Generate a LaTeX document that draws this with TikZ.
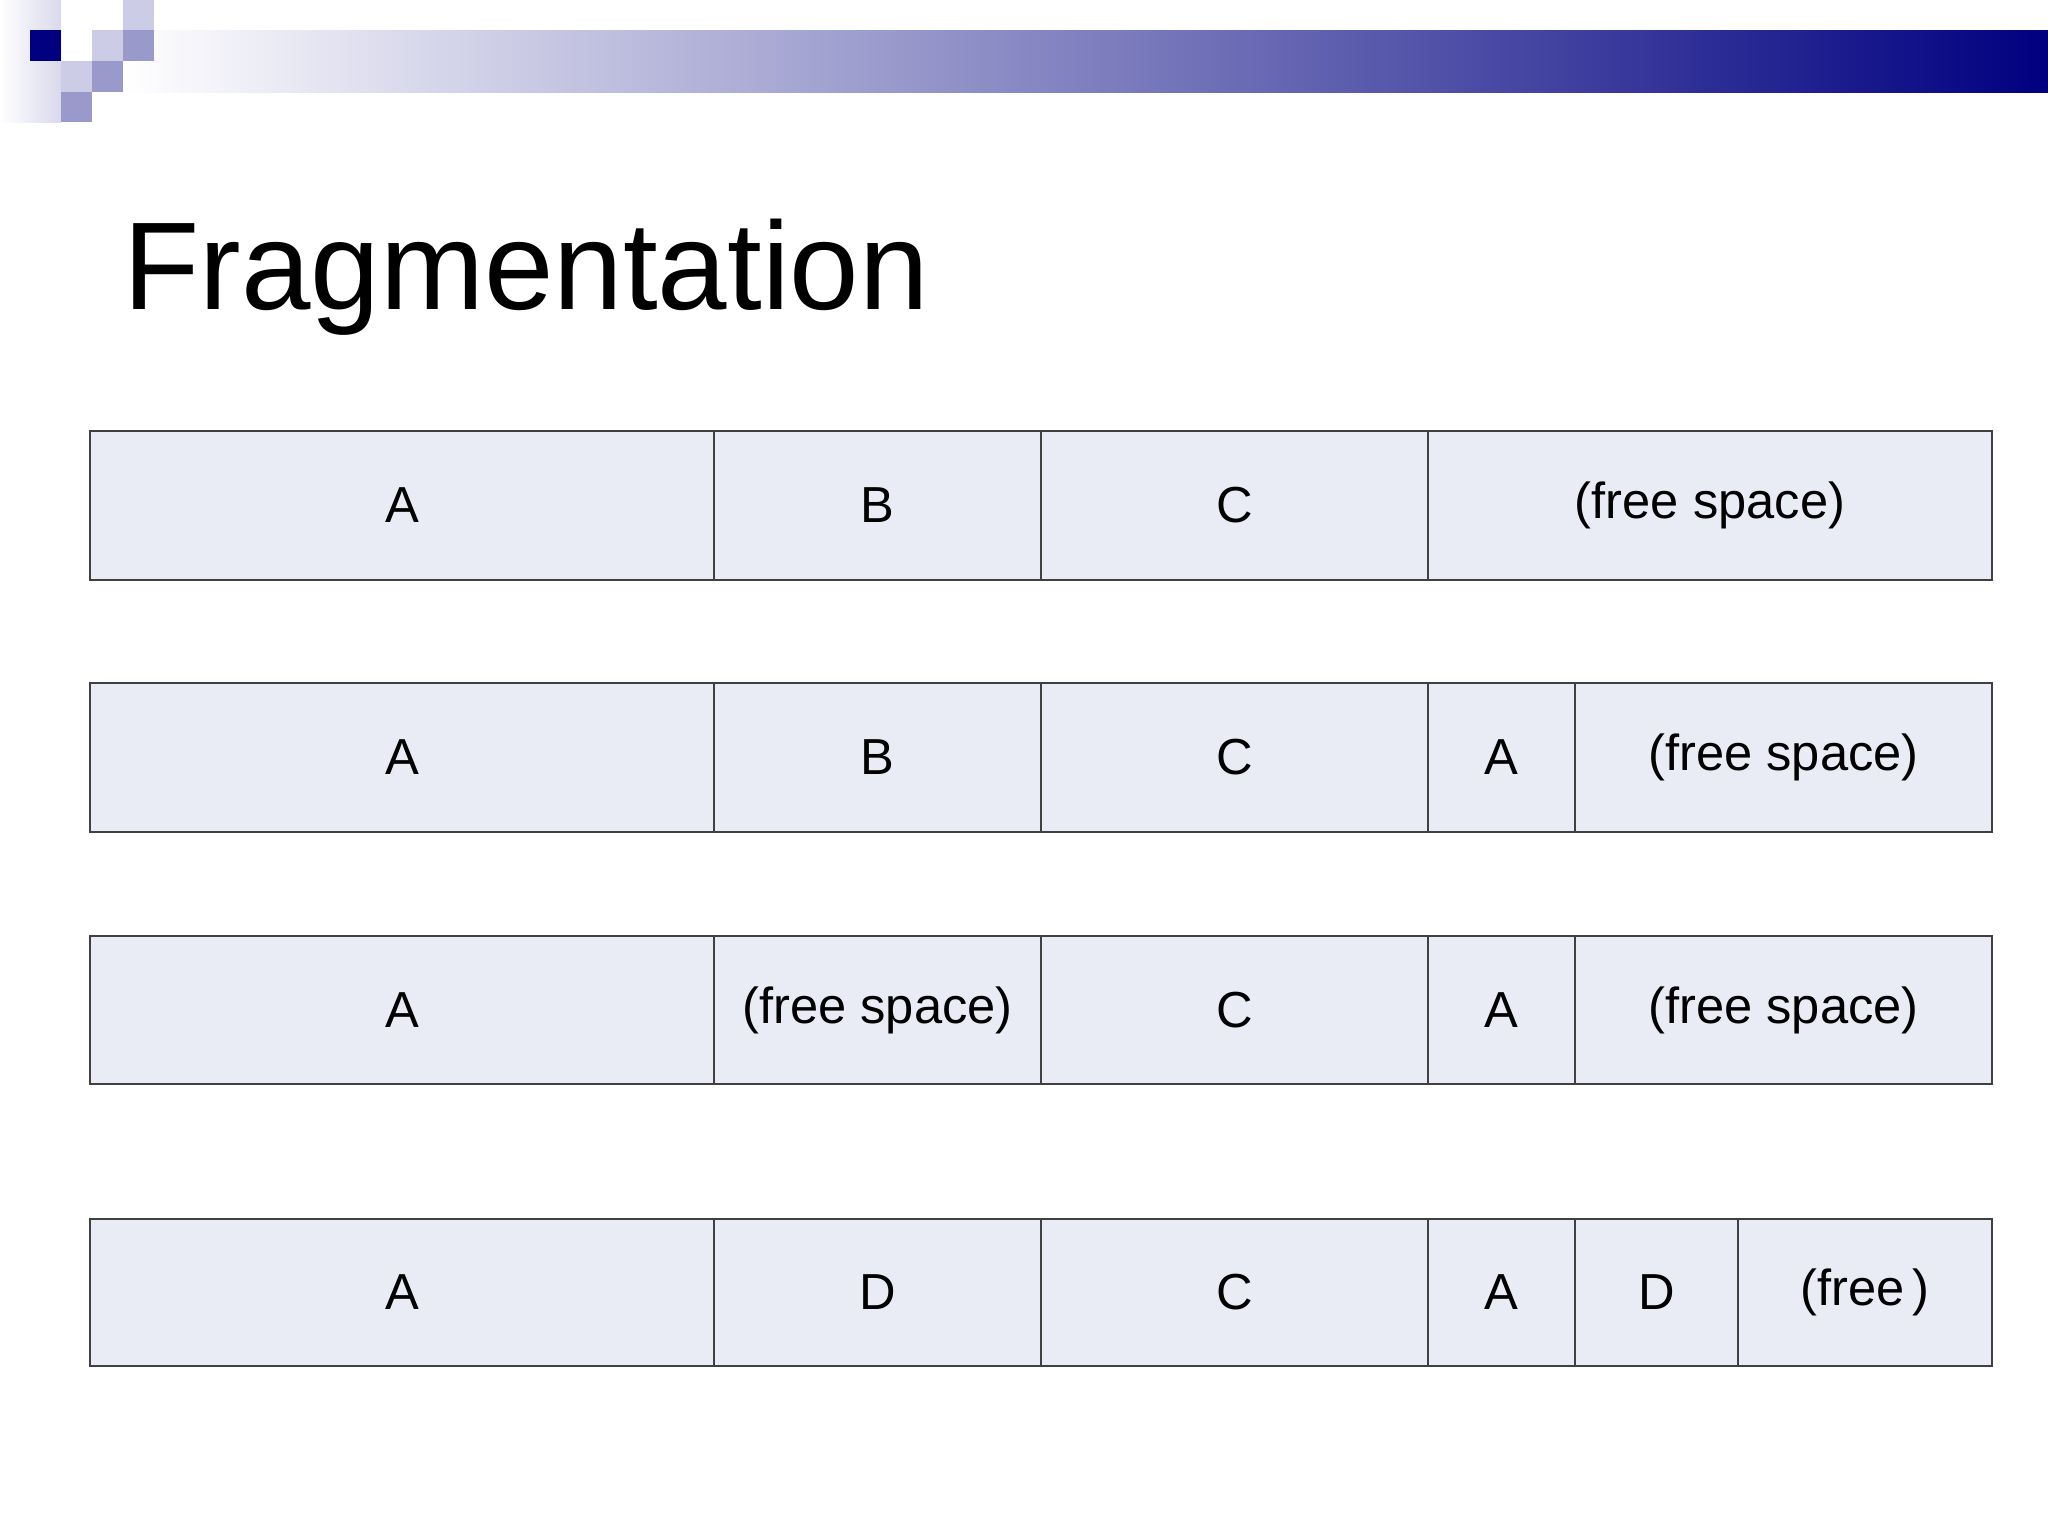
\documentclass[tikz,border=0pt]{standalone}
\usepackage{fontspec}
\setmainfont{Liberation Sans}
\definecolor{navy}{HTML}{000080}
\definecolor{lightsq}{HTML}{CCCCE6}
\definecolor{medsq}{HTML}{9999CC}
\definecolor{cellfill}{HTML}{E9ECF5}
\definecolor{cellline}{HTML}{404040}
\tikzset{
  cell/.style={draw=cellline, line width=0.5pt, fill=cellfill, inner sep=0pt,
    font=\fontsize{14.4}{17}\selectfont, text=black},
  titletext/.style={inner sep=0pt, anchor=base west, font=\fontsize{35.5}{40}\selectfont, text=black}
}
\newcommand\cellnode[6]{%
  \pgfmathsetmacro\mycw{(#3-#2)*0.01}%
  \pgfmathsetmacro\mych{(#5-#4)*0.01}%
  \node[cell, minimum width=\mycw cm, minimum height=\mych cm] (#1) at ({(#2+#3)/2},{(#4+#5)/2}) {#6};}
\begin{document}
\begin{tikzpicture}[x=0.01cm,y=-0.01cm]
\useasboundingbox[fill=white] (0,0) rectangle (2048,1536);
% decoration
\shade[left color=white, right color=lightsq!75] (0,0) rectangle (61,122);
\shade[left color=white, right color=navy] (123,30) rectangle (2048,92);
\fill[navy] (30,30) rectangle (61,61);
\fill[lightsq] (123,0) rectangle (154,30);
\fill[lightsq] (92,30) rectangle (123,61);
\fill[lightsq] (61,61) rectangle (92,92);
\fill[medsq] (123,30) rectangle (154,61);
\fill[medsq] (92,61) rectangle (123,92);
\fill[medsq] (61,92) rectangle (92,122);
% title
\node[titletext] (title) at (123,309) {Fragmentation};
% row 1
\cellnode{ra1}{90}{714}{431}{580}{A}
\cellnode{rb1}{714}{1041}{431}{580}{B}
\cellnode{rc1}{1041}{1428}{431}{580}{C}
\cellnode{rf1}{1428}{1992}{431}{580}{(free space)}
% row 2
\cellnode{ra2}{90}{714}{683}{832}{A}
\cellnode{rb2}{714}{1041}{683}{832}{B}
\cellnode{rc2}{1041}{1428}{683}{832}{C}
\cellnode{rd2}{1428}{1575}{683}{832}{A}
\cellnode{rf2}{1575}{1992}{683}{832}{(free space)}
% row 3
\cellnode{ra3}{90}{714}{936}{1084}{A}
\cellnode{rb3}{714}{1041}{936}{1084}{(free space)}
\cellnode{rc3}{1041}{1428}{936}{1084}{C}
\cellnode{rd3}{1428}{1575}{936}{1084}{A}
\cellnode{rf3}{1575}{1992}{936}{1084}{(free space)}
% row 4
\cellnode{ra4}{90}{714}{1219}{1366}{A}
\cellnode{rb4}{714}{1041}{1219}{1366}{D}
\cellnode{rc4}{1041}{1428}{1219}{1366}{C}
\cellnode{rd4}{1428}{1575}{1219}{1366}{A}
\cellnode{re4}{1575}{1738}{1219}{1366}{D}
\cellnode{rf4}{1738}{1992}{1219}{1366}{(free\,)}
\end{tikzpicture}
\end{document}
